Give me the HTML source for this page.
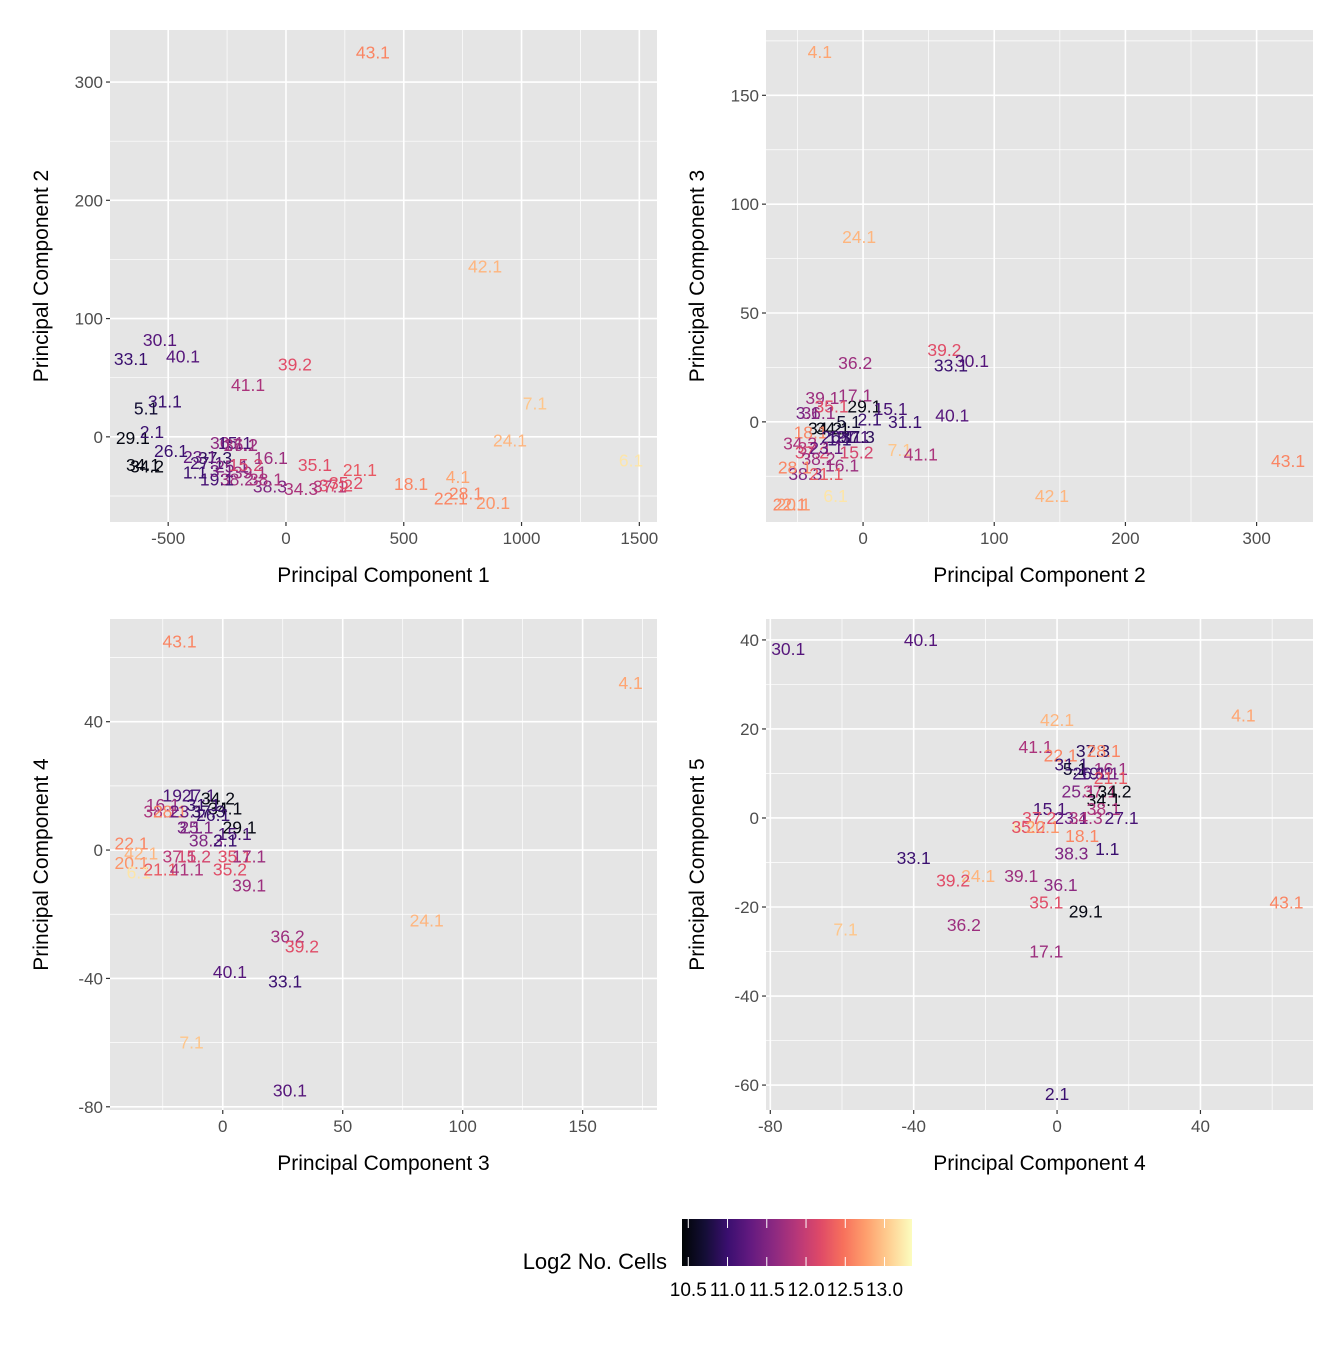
<!DOCTYPE html>
<html><head><meta charset="utf-8"><style>
body{margin:0;background:#fff;}
svg text{font-family:"Liberation Sans",Arial,sans-serif;}
</style></head><body>
<svg id="chart" width="1344" height="1344" xmlns="http://www.w3.org/2000/svg"></svg>
<script>
// ---- data ----
const cellNames = ["29.1","34.1","34.2","5.1","31.1","2.1","26.1","33.1","30.1","40.1","15.1","1.1","27.1","37.3","19.1","23.1","36.1","25.1","3.1","41.1","36.2","17.1","38.2","38.3","16.1","39.1","34.3","37.1","38.1","39.2","35.1","35.2","21.1","15.2","37.2","18.1","22.1","28.1","43.1","20.1","4.1","24.1","42.1","7.1","6.1"];
const cellLog2 = [10.5,10.5,10.5,10.7,11.0,11.0,11.0,11.0,11.2,11.2,11.1,11.0,11.1,10.9,11.1,11.3,11.6,11.5,11.4,11.8,11.7,11.7,11.7,11.5,11.7,11.7,11.8,11.9,11.8,12.2,12.2,12.2,12.3,12.1,12.2,12.6,12.6,12.6,12.6,12.7,12.8,12.9,12.9,13.0,13.2];

const p1Labels = ["43.1","42.1","30.1","33.1","40.1","39.2","41.1","7.1","31.1","5.1","24.1","6.1","29.1","2.1","26.1","34.1","34.2","36.1","15.1","17.1","16.1","35.1","21.1","18.1","4.1","28.1","22.1","20.1","34.3","38.3","38.2","19.1","1.1","27.1","37.3","23.1","37.1","37.2","35.2","39.1","25.1","3.1","15.2","36.2","38.1"];
const p1X = [369,845,-535,-658,-437,38,-161,1057,-514,-594,951,1465,-650,-569,-488,-607,-590,-250,-216,-195,-64,123,314,531,730,764,700,879,64,-68,-208,-293,-386,-335,-301,-365,187,212,255,-153,-229,-272,-170,-191,-85];
const p1Y = [325,144,82,66,68,61,44,28,30,24,-3,-20,-1,4,-12,-24,-25,-5,-5,-7,-18,-24,-28,-40,-34,-48,-52,-56,-44,-42,-36,-36,-30,-22,-18,-17,-42,-41,-39,-30,-25,-29,-24,-7,-36];

const p2Labels = ["4.1","24.1","36.2","39.2","33.1","30.1","40.1","31.1","29.1","15.1","2.1","39.1","17.1","35.1","3.1","36.1","34.2","34.1","5.1","18.1","26.1","19.1","27.1","37.3","1.1","34.3","37.2","37.1","23.1","15.2","38.2","16.1","38.3","21.1","28.1","22.1","20.1","6.1","7.1","41.1","42.1","43.1"];
const p2X = [-33,-3,-6,62,67,83,68,32,1,21,5,-31,-6,-24,-42,-34,-29,-23,-11,-40,-19,-14,-8,-4,-18,-48,-39,-37,-28,-5,-34,-16,-44,-28,-52,-56,-53,-21,28,44,144,324];
const p2Y = [170,85,27,33,26,28,3,0,7,6,1,11,12,7,4,4,-3,-3,0,-5,-7,-7,-7,-7,-8,-10,-14,-12,-12,-14,-17,-20,-24,-24,-21,-38,-38,-34,-13,-15,-34,-18];

const p3Labels = ["43.1","4.1","19.1","27.1","34.2","34.1","16.1","38.1","28.1","23.1","31.1","37.3","26.1","29.1","15.1","3.1","25.1","38.3","2.1","22.1","42.1","20.1","6.1","21.1","41.1","37.1","15.2","35.1","17.1","35.2","39.1","24.1","36.2","39.2","40.1","33.1","7.1","30.1"];
const p3X = [-18,170,-18,-10,-2,1,-25,-26,-22,-15,-8,-6,-4,7,5,-14,-11,-7,1,-38,-34,-38,-35,-26,-15,-18,-12,5,11,3,11,85,27,33,3,26,-13,28];
const p3Y = [65,52,17,17,16,13,14,12,12,12,14,12,11,7,5,7,7,3,3,2,-1,-4,-7,-6,-6,-2,-2,-2,-2,-6,-11,-22,-27,-30,-38,-41,-60,-75];

const p4Labels = ["30.1","40.1","42.1","4.1","41.1","22.1","37.3","28.1","31.1","16.1","5.1","26.1","19.1","3.1","21.1","25.1","37.1","34.2","34.1","38.1","15.1","37.2","23.1","6.1","35.2","20.1","34.3","27.1","18.1","38.3","1.1","33.1","24.1","39.1","39.2","36.1","35.1","29.1","7.1","36.2","17.1","43.1","2.1"];
const p4X = [-75,-38,0,52,-6,1,10,13,4,15,5,9,11,14,15,6,12,16,13,13,-2,-5,4,-9,-8,-4,8,18,7,4,14,-40,-22,-10,-29,1,-3,8,-59,-26,-3,64,0];
const p4Y = [38,40,22,23,16,14,15,15,12,11,11,10,10,10,9,6,6,6,4,2,2,0,0,-2,-2,-2,0,0,-4,-8,-7,-9,-13,-13,-14,-15,-19,-21,-25,-24,-30,-19,-62];

const p1XTicks = [-500,0,500,1000,1500], p1YTicks = [0,100,200,300];
const p2XTicks = [0,100,200,300], p2YTicks = [0,50,100,150];
const p3XTicks = [0,50,100,150], p3YTicks = [-80,-40,0,40];
const p4XTicks = [-80,-40,0,40], p4YTicks = [-60,-40,-20,0,20,40];
const legendTicks = [10.5,11.0,11.5,12.0,12.5,13.0];

// ---- helpers ----
const NS = "http://www.w3.org/2000/svg";
const svg = document.getElementById("chart");
function mk(tag, attrs, parent){const e=document.createElementNS(NS,tag);for(const k in attrs)e.setAttribute(k,attrs[k]);(parent||svg).appendChild(e);return e;}
const magma=[[0,4,4],[20,14,54],[59,15,112],[100,26,128],[140,41,129],[183,55,121],[222,73,104],[247,112,92],[254,159,109],[254,207,146],[252,253,191]];
const cMin=10.42,cMax=13.35;
function colorOf(v){let t=(v-cMin)/(cMax-cMin);t=Math.max(0,Math.min(1,t))*10;const i=Math.min(9,Math.floor(t)),f=t-i;const a=magma[i],b=magma[i+1];return `rgb(${a.map((c,j)=>Math.round(c+(b[j]-c)*f)).join(",")})`;}
function sampleColor(l){const i=cellNames.indexOf(l);return colorOf(i>=0?cellLog2[i]:11.5);}

function panel(name,box,xd,yd,xt,yt,xminor,yminor,labels,xs,ys,xtitle,ytitle){
  const [L,T,R,B]=box;
  const sx=v=>L+(v-xd[0])/(xd[1]-xd[0])*(R-L);
  const sy=v=>B-(v-yd[0])/(yd[1]-yd[0])*(B-T);
  const g=mk("g",{});
  
  
  const bg=mk("rect",{x:L,y:T,width:R-L,height:B-T,fill:"#e5e5e5"},g);
  
  
  xminor.forEach(v=>{if(v>xd[0]&&v<xd[1])mk("line",{x1:sx(v),x2:sx(v),y1:T,y2:B,stroke:"#fff","stroke-width":0.7},g);});
  yminor.forEach(v=>{if(v>yd[0]&&v<yd[1])mk("line",{x1:L,x2:R,y1:sy(v),y2:sy(v),stroke:"#fff","stroke-width":0.7},g);});
  xt.forEach(v=>{const x=sx(v);mk("line",{x1:x,x2:x,y1:T,y2:B,stroke:"#fff","stroke-width":1.6},g);mk("line",{x1:x,x2:x,y1:B,y2:B+4,stroke:"#333","stroke-width":1.2},g);
    const t=mk("text",{x:x,y:B+22,"text-anchor":"middle","font-size":17,fill:"#4d4d4d"},g);t.textContent=v;
    
    });
  yt.forEach(v=>{const y=sy(v);mk("line",{x1:L,x2:R,y1:y,y2:y,stroke:"#fff","stroke-width":1.6},g);mk("line",{x1:L-4,x2:L,y1:y,y2:y,stroke:"#333","stroke-width":1.2},g);
    const t=mk("text",{x:L-7,y:y+6,"text-anchor":"end","font-size":17,fill:"#4d4d4d"},g);t.textContent=v;
    
    });
  labels.forEach((l,i)=>{const t=mk("text",{x:sx(xs[i]),y:sy(ys[i])+6,"text-anchor":"middle","font-size":17.5,fill:sampleColor(l)},g);t.textContent=l;
    
    });
  const xtl=mk("text",{x:(L+R)/2,y:B+60,"text-anchor":"middle","font-size":21,fill:"#000"},g);xtl.textContent=xtitle;
  
  
  const cy=(T+B)/2, cx=L-62;
  const ytl=mk("text",{x:cx,y:cy,"text-anchor":"middle","font-size":21,fill:"#000",transform:`rotate(-90 ${cx} ${cy})`},g);ytl.textContent=ytitle;
  
  
}
panel("panel-pc1-pc2",[110,30,657,522],[-747,1575],[-72,344],p1XTicks,p1YTicks,[-750,-250,250,750,1250],[-50,50,150,250],p1Labels,p1X,p1Y,"Principal Component 1","Principal Component 2");
panel("panel-pc2-pc3",[766,30,1313,522],[-74,343],[-46,180],p2XTicks,p2YTicks,[-50,50,150,250],[-25,25,75,125,175],p2Labels,p2X,p2Y,"Principal Component 2","Principal Component 3");
panel("panel-pc3-pc4",[110,619,657,1110],[-47,181],[-81,72],p3XTicks,p3YTicks,[-25,25,75,125,175],[-60,-20,20,60],p3Labels,p3X,p3Y,"Principal Component 3","Principal Component 4");
panel("panel-pc4-pc5",[766,619,1313,1110],[-81.2,71.4],[-65.6,44.7],p4XTicks,p4YTicks,[-60,-20,20,60],[-50,-30,-10,10,30],p4Labels,p4X,p4Y,"Principal Component 4","Principal Component 5");

// ---- legend ----
const lg=mk("g",{});


const defs=mk("defs",{},lg);
const grad=mk("linearGradient",{id:"mg",x1:0,x2:1,y1:0,y2:0},defs);
magma.forEach((c,i)=>mk("stop",{offset:i/10,"stop-color":`rgb(${c.join(",")})`},grad));
const lx0=682,lx1=912;
const bar=mk("rect",{x:lx0,y:1219,width:lx1-lx0,height:47,fill:"url(#mg)"},lg);


const lsx=v=>lx0+(v-cMin)/(cMax-cMin)*(lx1-lx0);
legendTicks.forEach(v=>{const x=lsx(v);mk("line",{x1:x,x2:x,y1:1219,y2:1228,stroke:"#fff","stroke-width":1},lg);mk("line",{x1:x,x2:x,y1:1257,y2:1266,stroke:"#fff","stroke-width":1},lg);
  const t=mk("text",{x:x,y:1296,"text-anchor":"middle","font-size":19,fill:"#000"},lg);t.textContent=v.toFixed(1);
  
  });
const lt=mk("text",{x:667,y:1269,"text-anchor":"end","font-size":22,fill:"#000"},lg);lt.textContent="Log2 No. Cells";


</script>
</body></html>
